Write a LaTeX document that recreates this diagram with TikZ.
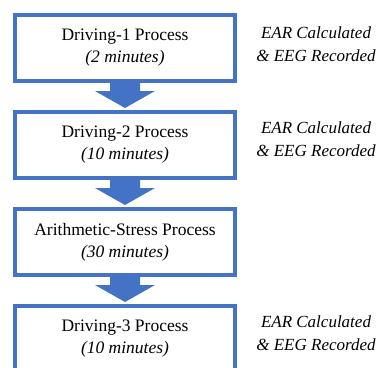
\documentclass[tikz,border=0pt]{standalone}
\usepackage{fontspec}
\setmainfont{Liberation Serif}
\newfontfamily\timesfont{Liberation Serif}
\usetikzlibrary{positioning,calc}
\definecolor{flowblue}{HTML}{4472C4}
\begin{document}
\begin{tikzpicture}[x=1pt,y=1pt,
    process/.style={draw=flowblue,line width=4pt,minimum width=220pt,minimum height=66pt,
      align=center,inner sep=0pt,font=\timesfont\fontsize{17.5}{22}\selectfont},
    remark/.style={align=center,inner sep=0pt,font=\timesfont\fontsize{17}{23}\selectfont\itshape},
    node distance=27pt]
      \useasboundingbox (0,0) rectangle (379,-367);
      \clip (0,0) rectangle (379,-367);
      \node[process] (d1) at (125,-48) {Driving-1 Process\\\textit{(2 minutes)}};
      \node[process,below=of d1] (d2) {Driving-2 Process\\\textit{(10 minutes)}};
      \node[process,below=of d2] (as) {Arithmetic-Stress Process\\\textit{(30 minutes)}};
      \node[process,below=of as] (d3) {Driving-3 Process\\\textit{(10 minutes)}};
      \node[remark] (r1) at (316,-44) {EAR Calculated\\\& EEG Recorded};
      \node[remark] (r2) at (316,-139) {EAR Calculated\\\& EEG Recorded};
      \node[remark] (r3) at (316,-333) {EAR Calculated\\\& EEG Recorded};
      \begin{scope}[fill=flowblue]
        \foreach \a/\b in {d1/d2,d2/as,as/d3}
          \fill ($(\a.south)+(-15,0)$) -- ($(\b.north)+(-15,19)$) -- ($(\b.north)+(-30,19)$)
            -- ($(\b.north)+(0,2)$) -- ($(\b.north)+(30,19)$) -- ($(\b.north)+(15,19)$)
            -- ($(\a.south)+(15,0)$) -- cycle;
      \end{scope}
    \end{tikzpicture}
\end{document}
